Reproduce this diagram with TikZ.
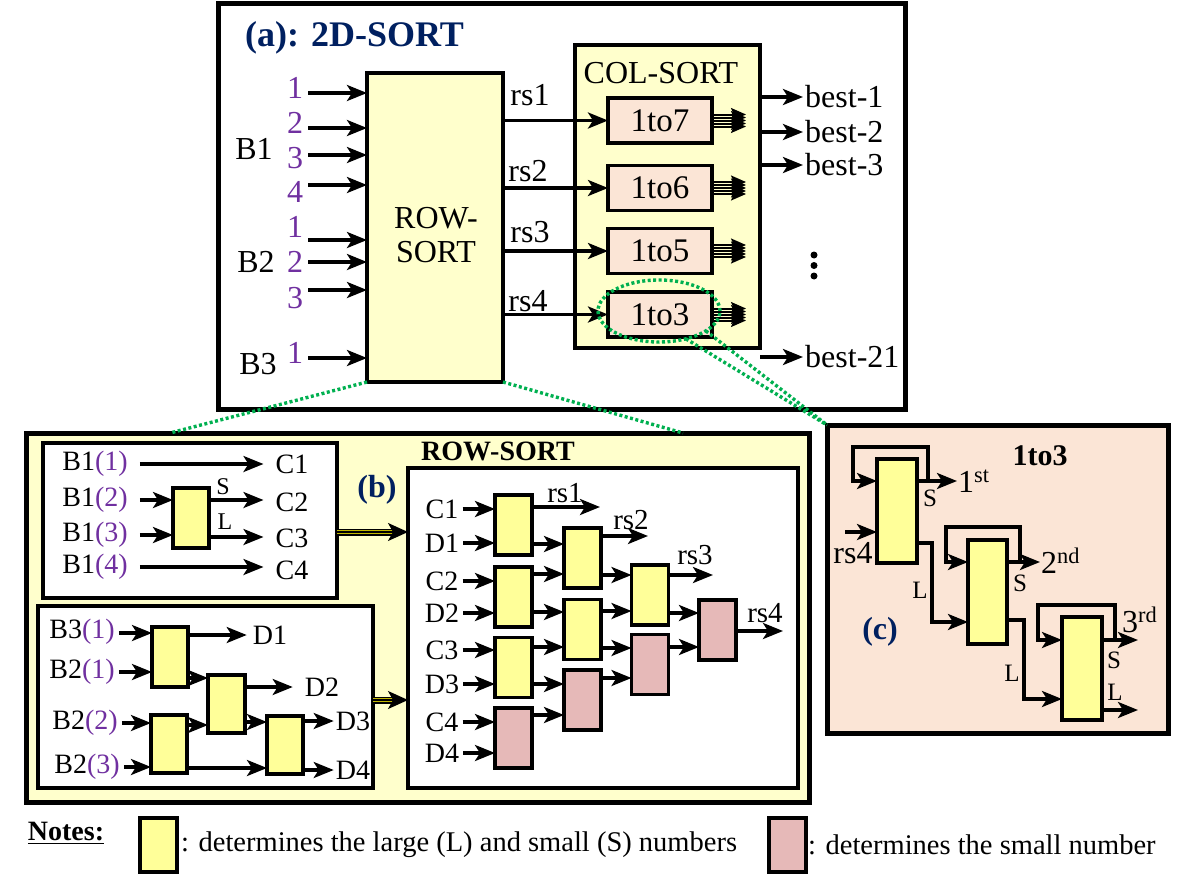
\documentclass[tikz,border=0pt]{standalone}
\usepackage{fontspec}
\setmainfont{Liberation Serif}
\usetikzlibrary{arrows.meta,calc,shapes.geometric}
\definecolor{lyel}{RGB}{255,255,204}
\definecolor{cyel}{RGB}{255,255,153}
\definecolor{cpink}{RGB}{230,185,184}
\definecolor{peach}{RGB}{251,229,214}
\definecolor{navy}{RGB}{0,32,96}
\definecolor{purp}{RGB}{112,48,160}
\definecolor{gdot}{RGB}{0,176,80}
\begin{document}
\begin{tikzpicture}[x=1pt,y=-1pt]
	\tikzstyle{arr}=[-{Stealth[length=20pt,width=16pt,inset=5pt]},line width=3.2pt]
	\tikzstyle{bund}=[-{Stealth[length=15pt,width=13pt,inset=3pt]},line width=2pt]
	\tikzstyle{tri}=[-{Stealth[length=20pt,width=18pt,inset=5pt]},line width=1.5pt,preaction={draw,-,line width=1.5pt,double=olive!55!yellow,double distance=4pt,shorten >=15pt}]
	\tikzstyle{bigbox}=[draw,line width=5pt,inner sep=0pt,outer sep=0pt,anchor=north west]
	\tikzstyle{inbox}=[draw,line width=3.2pt,fill=white,inner sep=0pt,outer sep=0pt,anchor=north west]
	\tikzstyle{cmp}=[draw,line width=3.2pt,fill=cyel,minimum width=37,minimum height=60,inner sep=0pt,outer sep=0pt]
	\tikzstyle{cmpp}=[cmp,fill=cpink]
	\tikzstyle{subbox}=[draw,line width=3.2pt,fill=peach,minimum width=104,minimum height=45,inner sep=0pt,outer sep=0pt,font=\fontsize{33}{35}\selectfont]
	\tikzstyle{lbl}=[inner sep=0pt,font=\fontsize{32}{34}\selectfont]
	\tikzstyle{sml}=[inner sep=0pt,font=\fontsize{28}{30}\selectfont]
	\tikzstyle{tagl}=[inner sep=0pt,font=\fontsize{24}{26}\selectfont]
	\tikzstyle{ttl}=[inner sep=0pt,font=\bfseries\fontsize{32}{34}\selectfont,text=navy]
	\tikzstyle{gline}=[draw=gdot,line width=3.4pt,dash pattern=on 3pt off 2.5pt]
	\useasboundingbox (0,0) rectangle (1200,878);

	% (a) 2D-SORT
	\node[bigbox,minimum width=687,minimum height=406] (frameA) at (218,3) {};
	\node[ttl,font=\bfseries\fontsize{36}{40}\selectfont,anchor=west] (titleA) at (245,38) {(a): 2D-SORT};
	\node[bigbox,line width=3.2pt,fill=lyel,minimum width=136,minimum height=309] (rowsort) at (367,73) {};
	\node[lbl,align=center] (rowtxt) at (436,235) {ROW-\\SORT};
	\node[lbl] (b1) at (254,149) {B1};
	\node[lbl] (b2) at (256,262) {B2};
	\node[lbl] (b3) at (258,364) {B3};
	\foreach \y/\n/\ny [count=\i] in {93/1/88,128/2/123,155/3/158,185/4/192,240/1/227,262/2/262,290/3/298,358/1/353} {
		\node[lbl,text=purp] (in\i) at (295,\ny) {\n};
		\draw[arr] (in\i.east |- 0,\y) ++(5,0) -- (rowsort.west |- 0,\y);
	}

	\node[bigbox,line width=3.2pt,fill=lyel,minimum width=185,minimum height=303] (colsort) at (575,45) {};
	\node[lbl] (coltxt) at (661,73) {COL-SORT};
	\node[subbox] (s7) at (660,120.5) {1to7};
	\node[subbox] (s6) at (660,188) {1to6};
	\node[subbox] (s5) at (660,251) {1to5};
	\node[subbox] (s3) at (660,314.5) {1to3};
	\draw[arr] (rowsort.east |- s7) -- (s7.west);
	\draw[arr] (rowsort.east |- s6) -- (s6.west);
	\draw[arr] (rowsort.east |- s5) -- (s5.west);
	\draw[arr] (rowsort.east |- s3) -- (s3.west);
	\node[lbl] (rs1) at (530,95) {rs1};
	\node[lbl] (rs2) at (528,171) {rs2};
	\node[lbl] (rs3) at (530,232) {rs3};
	\node[lbl] (rs4) at (528,301) {rs4};
	\foreach \s in {s7,s6,s5,s3}
		\foreach \d in {-6,-3,0,3,6}
			\draw[bund] ([yshift=\d pt]\s.east) -- ++(34,0);
	\foreach \y/\t [count=\i] in {97/best-1,132/best-2,165/best-3,357/best-21} {
		\coordinate (bst\i) at (803,\y);
		\draw[arr] (colsort.east |- bst\i) -- (bst\i);
		\node[lbl,anchor=west,xshift=2pt] (best\i) at (bst\i) {\t};
	}
	\foreach \y in {255,265.5,276}
		\fill (814,\y) circle (3.5);

	% (b) ROW-SORT
	\node[bigbox,fill=lyel,minimum width=783,minimum height=369] (frameB) at (26,433) {};
	\node[inner sep=0pt,font=\bfseries\fontsize{28}{30}\selectfont] (rowtitle) at (498,451) {ROW-SORT};
	\node[ttl] (labB) at (377,490) {(b)};

	\node[inbox,minimum width=294,minimum height=155] (bx1) at (43,443) {};
	\foreach \y/\n/\cy in {464/1/464,500/2/502,535/3/538,567/4/570} {
		\node[sml] (bi\n) at (95,\y) {B1\textcolor{purp}{(\n)}};
		\node[sml] (c\n) at (292,\cy) {C\n};
	}
	\node[cmp,minimum width=36] (k0) at (191,518) {};
	\draw[arr,shorten <=12pt,shorten >=12pt] (bi1.east) -- (c1.west |- bi1.east);
	\draw[arr,shorten <=12pt,shorten >=12pt] (bi4.east) -- (c4.west |- bi4.east);
	\draw[arr,shorten <=12pt] (bi2.east) -- (k0.west |- bi2.east);
	\draw[arr,shorten <=12pt] (bi3.east) -- (k0.west |- bi3.east);
	\draw[arr,shorten >=12pt] (k0.east |- bi2.east) -- (c2.west |- bi2.east);
	\draw[arr,shorten >=12pt] (k0.east |- 0,537) -- (c3.west |- 0,537);
	\node[tagl] (sS) at (223,487) {S};
	\node[tagl] (sL) at (225,522) {L};

	\node[inbox,minimum width=335,minimum height=182] (bx2) at (38,606) {};
	\node[sml] (j1) at (82,632) {B3\textcolor{purp}{(1)}};
	\node[sml] (j2) at (82,672) {B2\textcolor{purp}{(1)}};
	\node[sml] (j3) at (85,723) {B2\textcolor{purp}{(2)}};
	\node[sml] (j4) at (87,767) {B2\textcolor{purp}{(3)}};
	\node[cmp,minimum width=36] (q1) at (170,657) {};
	\node[cmp,minimum width=37,minimum height=58] (q2) at (226.5,704) {};
	\node[cmp,minimum width=36,minimum height=58] (q3) at (169,744) {};
	\node[cmp,minimum width=36,minimum height=58] (q4) at (285,745) {};
	\node[sml] (d1) at (270,635) {D1};
	\node[sml] (d2) at (322,687) {D2};
	\node[sml] (d3) at (353,721) {D3};
	\node[sml] (d4) at (353,770) {D4};
	\draw[arr,shorten <=4pt] (j1.east |- 0,633) -- (q1.west |- 0,633);
	\draw[arr,shorten <=4pt] (j2.east |- 0,672) -- (q1.west |- 0,672);
	\draw[arr,shorten <=4pt] (j3.east |- 0,723) -- (q3.west |- 0,723);
	\draw[arr,shorten <=4pt] (j4.east |- 0,767) -- (q3.west |- 0,767);
	\draw[arr,shorten >=6pt] (q1.east |- d1) -- (d1.west);
	\draw[arr] (q1.east |- 0,678) -- (q2.west |- 0,678);
	\draw[arr,shorten >=12pt] (q2.east |- d2) -- (d2.west);
	\draw[arr] (q2.east |- 0,722) -- (q4.west |- 0,722);
	\draw[arr] (q3.east |- 0,725) -- (q2.west |- 0,725);
	\draw[arr] (q3.east |- 0,768) -- (q4.west |- 0,768);
	\draw[arr,shorten >=2pt] (q4.east |- d3) -- (d3.west);
	\draw[arr,shorten >=2pt] (q4.east |- d4) -- (d4.west);

	\node[inbox,minimum width=390,minimum height=320] (bx3) at (408,468) {};
	\draw[tri] (bx1.east |- 0,532) -- (bx3.west |- 0,532);
	\draw[tri] (bx2.east |- 0,700) -- (bx3.west |- 0,700);
	\foreach \t/\y in {C1/509,D1/543,C2/581,D2/613,C3/650,D3/684,C4/722,D4/753}
		\node[sml] (r\t) at (442,\y) {\t};
	\node[cmp] (a1) at (513.5,525) {};
	\node[cmp] (a2) at (513.5,597) {};
	\node[cmp] (a3) at (513.5,667.5) {};
	\node[cmpp] (a4) at (513.5,738) {};
	\node[cmp] (e1) at (582.5,558) {};
	\node[cmp] (e2) at (582.5,629.5) {};
	\node[cmpp] (e3) at (582.5,700) {};
	\node[cmp] (h1) at (650,595) {};
	\node[cmpp] (h2) at (650,664.5) {};
	\node[cmpp] (g1) at (717.5,630) {};
	\foreach \t/\p in {C1/a1,D1/a1,C2/a2,D2/a2,C3/a3,D3/a3,C4/a4,D4/a4}
		\draw[arr,shorten <=4pt] (r\t.east) -- (\p.west |- r\t.east);
	\foreach \p/\q/\y in {a1/e1/544,a2/e1/574,a2/e2/612,e1/h1/575,e2/h1/611,a3/e2/647,a3/e3/684,e2/h2/648,a4/e3/715,e3/h2/678,h1/g1/613,h2/g1/647}
		\draw[arr] (\p.east |- 0,\y) -- (\q.west |- 0,\y);
	\coordinate (o1) at (600,507);
	\coordinate (o2) at (648,536);
	\coordinate (o3) at (713,575);
	\coordinate (o4) at (783,631);
	\draw[arr] (a1.east |- o1) -- (o1);
	\draw[arr] (e1.east |- o2) -- (o2);
	\draw[arr] (h1.east |- o3) -- (o3);
	\draw[arr] (g1.east |- o4) -- (o4);
	\node[sml,font=\fontsize{29}{31}\selectfont] (t1) at (565,493) {rs1};
	\node[sml,font=\fontsize{29}{31}\selectfont] (t2) at (631,520) {rs2};
	\node[sml,font=\fontsize{29}{31}\selectfont] (t3) at (695,555) {rs3};
	\node[sml,font=\fontsize{29}{31}\selectfont] (t4) at (765,613) {rs4};

	% (c) 1to3
	\node[bigbox,fill=peach,minimum width=341,minimum height=308] (frameC) at (827,425) {};
	\node[inner sep=0pt,font=\bfseries\fontsize{30}{32}\selectfont] (ctitle) at (1040,456) {1to3};
	\node[ttl] (labC) at (880,632) {(c)};
	\node[cmp,minimum width=40,minimum height=104] (p1) at (897,511) {};
	\node[cmp,minimum width=39,minimum height=104] (p2) at (987.5,592) {};
	\node[cmp,minimum width=40,minimum height=103] (p3) at (1082,668.5) {};
	\coordinate (in4) at (845,532);
	\draw[arr] (in4) -- (p1.west |- in4);
	\node[lbl] (crs4) at (853,553) {rs4};
	\coordinate (u1) at (957,481);
	\coordinate (u2) at (1040,562);
	\coordinate (u3) at (1138,640);
	\coordinate (u4) at (1138,710);
	\draw[arr] (p1.east |- u1) -- (u1);
	\draw[arr] (p1.east |- u1) ++(11,0) -- ++(0,-34) -| ($(p1.west |- u1)+(-24,0)$) -- (p1.west |- u1);
	\draw[arr] (p1.east |- 0,543) -- ++(15,0) |- (p2.west |- 0,622);
	\draw[arr] (p2.east |- u2) -- (u2);
	\draw[arr] (p2.east |- u2) ++(13,0) -- ++(0,-35) -| ($(p2.west |- u2)+(-22,0)$) -- (p2.west |- u2);
	\draw[arr] (p2.east |- 0,620) -- ++(17,0) |- (p3.west |- 0,699);
	\draw[arr] (p3.east |- u3) -- (u3);
	\draw[arr] (p3.east |- u3) ++(13,0) -- ++(0,-35) -| ($(p3.west |- u3)+(-24,0)$) -- (p3.west |- u3);
	\draw[arr] (p3.east |- u4) -- (u4);
	\node[lbl,anchor=base west] (st1) at (958,492) {1\textsuperscript{st}};
	\node[lbl,anchor=base west] (st2) at (1041,573) {2\textsuperscript{nd}};
	\node[lbl,anchor=base west] (st3) at (1122,632) {3\textsuperscript{rd}};
	\node[tagl,font=\fontsize{25}{27}\selectfont] (cs1) at (930,498) {S};
	\node[tagl,font=\fontsize{25}{27}\selectfont] (cl1) at (920,590) {L};
	\node[tagl,font=\fontsize{25}{27}\selectfont] (cs2) at (1020,583) {S};
	\node[tagl,font=\fontsize{25}{27}\selectfont] (cl2) at (1012,673) {L};
	\node[tagl,font=\fontsize{25}{27}\selectfont] (cs3) at (1114,660) {S};
	\node[tagl,font=\fontsize{25}{27}\selectfont] (cl3) at (1115,692) {L};

	% zoom marks
	\coordinate (zb1) at (170,433);
	\coordinate (zb2) at (683,433);
	\draw[gline] (rowsort.south west) -- (zb1);
	\draw[gline] (rowsort.south east) -- (zb2);
	\node[draw=gdot,line width=3.4pt,dash pattern=on 3pt off 2.5pt,ellipse,minimum width=122,minimum height=62,inner sep=0pt,outer sep=0pt] (zc) at (659,311) {};
	\draw[gline] (zc.-46) -- (frameC.north west);
	\draw[gline] (zc.-23) -- (frameC.north west);

	% notes
	\node[inner sep=0pt,font=\bfseries\fontsize{28}{30}\selectfont] (notes) at (66,833) {\underline{Notes:}};
	\node[cmp,minimum width=37,minimum height=54] (ky) at (158.5,845) {};
	\node[inner sep=0pt,anchor=west,font=\fontsize{28.5}{30}\selectfont] (ty) at (181,845) {: determines the large (L) and small (S) numbers};
	\node[cmpp,minimum width=37,minimum height=54] (kp) at (787.5,845) {};
	\node[inner sep=0pt,anchor=west,font=\fontsize{28.5}{30}\selectfont] (tp) at (808,845) {: determines the small number};
\end{tikzpicture}
\end{document}
